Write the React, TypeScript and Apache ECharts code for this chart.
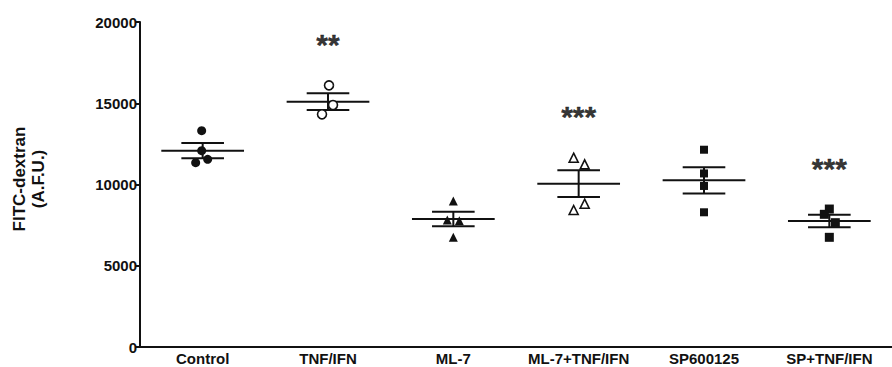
import React, { useEffect, useRef } from "react";
import * as echarts from "echarts";

const categories = ["Control", "TNF/IFN", "ML-7", "ML-7+TNF/IFN", "SP600125", "SP+TNF/IFN"];
const controlValues = [13310, 12080, 11340, 11550];
const tnfValues = [16100, 14890, 14320];
const ml7Values = [8985, 7815, 7775, 6750];
const ml7TnfValues = [11650, 11240, 8820, 8430];
const spValues = [12140, 10680, 9910, 8290];
const spTnfValues = [8490, 8165, 7650, 6750];
const means = [12080, 15095, 7877, 10050, 10255, 7754];
const sems = [471, 513, 452, 820, 808, 380];
const sigLabels = ["", "**", "", "***", "", "***"];
const yTicks = [0, 5000, 10000, 15000, 20000];

// pixel jitter of each point (style only)
const jitter = [
  [-1, -1, -7, 5],
  [1, 5, -6],
  [0, -6, 6, 0],
  [-5, 6, 6, -5],
  [0, 0, 0, 0],
  [0, -5, 6, 0],
];

const groups = [controlValues, tnfValues, ml7Values, ml7TnfValues, spValues, spTnfValues];
const groupStyles = [
  { symbol: "circle", size: 9, fill: "#111", stroke: "#111" },
  { symbol: "circle", size: 9, fill: "#fff", stroke: "#111" },
  { symbol: "triangle", size: 9, fill: "#111", stroke: "#111" },
  { symbol: "triangle", size: 9, fill: "#fff", stroke: "#111" },
  { symbol: "rect", size: 8, fill: "#111", stroke: "#111" },
  { symbol: "rect", size: 9, fill: "#111", stroke: "#111" },
];

const FONT = '"Liberation Sans", Arial, Helvetica, sans-serif';
const INK = "#111";

export default function App() {
  const ref = useRef<HTMLDivElement>(null);
  useEffect(() => {
    document.body.style.margin = "0";
    if (!ref.current) return;
    const chart = echarts.init(ref.current, undefined, { renderer: "svg" });

    const scatterSeries = groups.map((vals, gi) => ({
      type: "scatter",
      name: categories[gi],
      z: 3,
      symbol: groupStyles[gi].symbol,
      symbolSize: groupStyles[gi].size,
      itemStyle: {
        color: groupStyles[gi].fill,
        borderColor: groupStyles[gi].stroke,
        borderWidth: groupStyles[gi].fill === "#fff" ? 1.6 : 0,
        opacity: 1,
      },
      data: vals.map((v, i) => ({
        value: [gi, v],
        symbolOffset: [jitter[gi][i] || 0, 0],
      })),
    }));

    const errData = categories.map((_, i) => [i, means[i], sems[i]]);

    const option: any = {
      animation: false,
      grid: { left: 140, right: -10, top: 22, bottom: 20, containLabel: false },
      xAxis: {
        type: "category",
        data: categories,
        boundaryGap: true,
        axisLine: { lineStyle: { color: INK, width: 2 } },
        axisTick: { show: false },
        axisLabel: {
          interval: 0,
          color: INK,
          fontWeight: "bold",
          fontSize: 15,
          fontFamily: FONT,
          margin: 4,
        },
        splitLine: { show: false },
      },
      yAxis: {
        type: "value",
        min: yTicks[0],
        max: yTicks[yTicks.length - 1],
        interval: 5000,
        axisLine: { show: true, lineStyle: { color: INK, width: 2 } },
        axisTick: { show: true, length: 5, lineStyle: { color: INK, width: 2 } },
        axisLabel: {
          color: INK,
          fontWeight: "bold",
          fontSize: 15,
          fontFamily: FONT,
          margin: 3,
          formatter: (v: number) => String(v),
        },
        splitLine: { show: false },
      },
      graphic: [
        {
          type: "text",
          x: 29,
          y: 179,
          rotation: Math.PI / 2,
          style: {
            text: "FITC-dextran\n(A.F.U.)",
            font: `bold 17px ${FONT}`,
            fill: INK,
            textAlign: "center",
            textVerticalAlign: "middle",
            lineHeight: 19,
          },
        },
      ],
      series: [
        {
          type: "custom",
          z: 2,
          data: errData,
          renderItem: (params: any, api: any) => {
            const i = api.value(0);
            const m = api.value(1);
            const s = api.value(2);
            const c = api.coord([i, m]);
            const up = api.coord([i, m + s]);
            const lo = api.coord([i, m - s]);
            const band = api.size([1, 0])[0];
            const mh = band * 0.33;
            const ch = band * 0.17;
            const st = { stroke: INK, lineWidth: 2 };
            return {
              type: "group",
              children: [
                { type: "line", shape: { x1: c[0] - mh, y1: c[1], x2: c[0] + mh, y2: c[1] }, style: st },
                { type: "line", shape: { x1: c[0] - ch, y1: up[1], x2: c[0] + ch, y2: up[1] }, style: st },
                { type: "line", shape: { x1: c[0] - ch, y1: lo[1], x2: c[0] + ch, y2: lo[1] }, style: st },
                { type: "line", shape: { x1: c[0], y1: up[1], x2: c[0], y2: lo[1] }, style: st },
              ],
            };
          },
        },
        ...scatterSeries,
        {
          type: "scatter",
          name: "significance",
          symbolSize: 0,
          z: 4,
          itemStyle: { color: INK },
          data: categories
            .map((_, i) => ({ i, v: Math.max(...groups[i]) }))
            .filter((d) => sigLabels[d.i] !== "")
            .map((d) => ({ value: [d.i, d.v], sig: sigLabels[d.i] })),
          label: {
            show: true,
            position: "inside",
            offset: [0, -41],
            formatter: (p: any) => p.data.sig,
            color: "#000",
            textBorderWidth: 0.4,
            textBorderColor: "#000",
            fontWeight: "bold",
            fontSize: 30,
            fontFamily: FONT,
            verticalAlign: "middle",
            align: "center",
          },
        },
      ],
    };
    chart.setOption(option);
    return () => chart.dispose();
  }, []);
  return <div ref={ref} style={{ width: 892, height: 367 }} />;
}
